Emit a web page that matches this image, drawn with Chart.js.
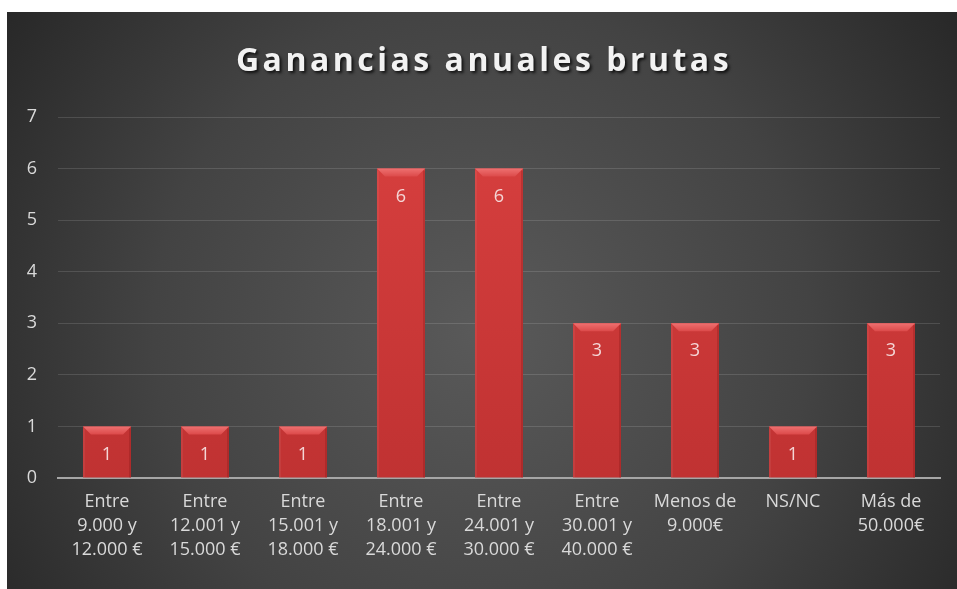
<!DOCTYPE html>
<html>
<head>
<meta charset="utf-8">
<script src="https://cdn.jsdelivr.net/npm/chart.js@4/dist/chart.umd.min.js"></script>
<style>
  html, body { margin: 0; padding: 0; background: #fff; }
  #wrap { position: absolute; left: 7px; top: 12px; width: 950px; height: 577px; }
</style>
</head>
<body>
<div id="wrap"><canvas id="chart" width="950" height="577"></canvas></div>
<script>
// datos del gráfico
const chartTitle = "Ganancias anuales brutas";
const categories = [
    ["Entre", "9.000 y", "12.000 €"],
    ["Entre", "12.001 y", "15.000 €"],
    ["Entre", "15.001 y", "18.000 €"],
    ["Entre", "18.001 y", "24.000 €"],
    ["Entre", "24.001 y", "30.000 €"],
    ["Entre", "30.001 y", "40.000 €"],
    ["Menos de", "9.000€"],
    ["NS/NC"],
    ["Más de", "50.000€"]
];
const values = [1, 1, 1, 6, 6, 3, 3, 1, 3];
const yTicks = [0, 1, 2, 3, 4, 5, 6, 7];

const FONT = "'Open Sans', 'Noto Sans', sans-serif";

// fondo degradado tipo Excel
const backgroundPlugin = {
    id: "bg",
    beforeDraw(chart) {
        const { ctx, width, height } = chart;
        ctx.save();
        const g = ctx.createRadialGradient(width * 0.5, height * 0.55, 10, width * 0.5, height * 0.55, width * 0.62);
        g.addColorStop(0, "#595959");
        g.addColorStop(0.55, "#434343");
        g.addColorStop(1, "#262626");
        ctx.fillStyle = g;
        ctx.fillRect(0, 0, width, height);
        ctx.restore();
    }
};

// título con sombra
const titlePlugin = {
    id: "shadowTitle",
    afterDraw(chart) {
        const { ctx, width } = chart;
        ctx.save();
        ctx.font = "bold 32px " + FONT;
        ctx.letterSpacing = "3.5px";
        ctx.textAlign = "center";
        ctx.textBaseline = "middle";
        ctx.shadowColor = "rgba(0,0,0,0.75)";
        ctx.shadowOffsetX = 2;
        ctx.shadowOffsetY = 2;
        ctx.shadowBlur = 3;
        ctx.fillStyle = "#f2f2f2";
        ctx.fillText(chartTitle, width / 2 + 2, 50);
        ctx.restore();
    }
};

// bisel de las barras + etiquetas de datos
const bevelPlugin = {
    id: "bevel",
    afterDatasetsDraw(chart) {
        const { ctx } = chart;
        const meta = chart.getDatasetMeta(0);
        ctx.save();
        meta.data.forEach((bar, i) => {
            const left = bar.x - bar.width / 2;
            const right = bar.x + bar.width / 2;
            const top = bar.y;
            const base = bar.base;
            const b = 8;
            // cara superior
            const gt = ctx.createLinearGradient(0, top, 0, top + b);
            gt.addColorStop(0, "#ee7070");
            gt.addColorStop(1, "#dc4a4a");
            ctx.fillStyle = gt;
            ctx.beginPath();
            ctx.moveTo(left, top);
            ctx.lineTo(right, top);
            ctx.lineTo(right - b, top + b);
            ctx.lineTo(left + b, top + b);
            ctx.closePath();
            ctx.fill();
            // lados
            ctx.fillStyle = "rgba(120,20,20,0.25)";
            ctx.fillRect(right - 2, top + 2, 2, base - top - 2);
            ctx.fillStyle = "rgba(255,255,255,0.06)";
            ctx.fillRect(left, top + 2, 2, base - top - 2);
            // etiqueta
            ctx.font = "18px " + FONT;
            ctx.fillStyle = "#f4d6d6";
            ctx.textAlign = "center";
            ctx.textBaseline = "middle";
            ctx.fillText(String(values[i]), bar.x, top + 28);
        });
        ctx.restore();
    }
};

const ctx = document.getElementById("chart").getContext("2d");
new Chart(ctx, {
    type: "bar",
    data: {
        labels: categories,
        datasets: [{
            data: values,
            backgroundColor: (c) => {
                const area = c.chart.chartArea;
                if (!area) return "#d23c3c";
                const g = c.chart.ctx.createLinearGradient(0, area.top, 0, area.bottom);
                g.addColorStop(0, "#d8403f");
                g.addColorStop(1, "#c03232");
                return g;
            },
            borderWidth: 0,
            categoryPercentage: 1,
            barPercentage: 0.49
        }]
    },
    options: {
        responsive: false,
        animation: false,
        events: [],
        layout: { padding: { top: 105, right: 17, bottom: 0, left: 0 } },
        plugins: {
            legend: { display: false },
            title: { display: false },
            tooltip: { enabled: false }
        },
        scales: {
            x: {
                grid: { display: false, drawTicks: false },
                border: { display: true, color: "#a6a6a6", width: 2 },
                ticks: {
                    color: "#d9d9d9",
                    font: { family: FONT, size: 18, lineHeight: 1.34 },
                    padding: 12,
                    maxRotation: 0,
                    autoSkip: false
                },
                afterFit(scale) { scale.height = 111; }
            },
            y: {
                min: 0,
                max: 7,
                afterBuildTicks(scale) { scale.ticks = yTicks.map(v => ({ value: v })); },
                grid: { color: "rgba(255,255,255,0.13)", lineWidth: 1, drawTicks: false },
                border: { display: false },
                ticks: {
                    color: "#d9d9d9",
                    font: { family: FONT, size: 18 },
                    padding: 21
                },
                afterFit(scale) { scale.width = 51; }
            }
        }
    },
    plugins: [backgroundPlugin, bevelPlugin, titlePlugin]
});
</script>
</body>
</html>
